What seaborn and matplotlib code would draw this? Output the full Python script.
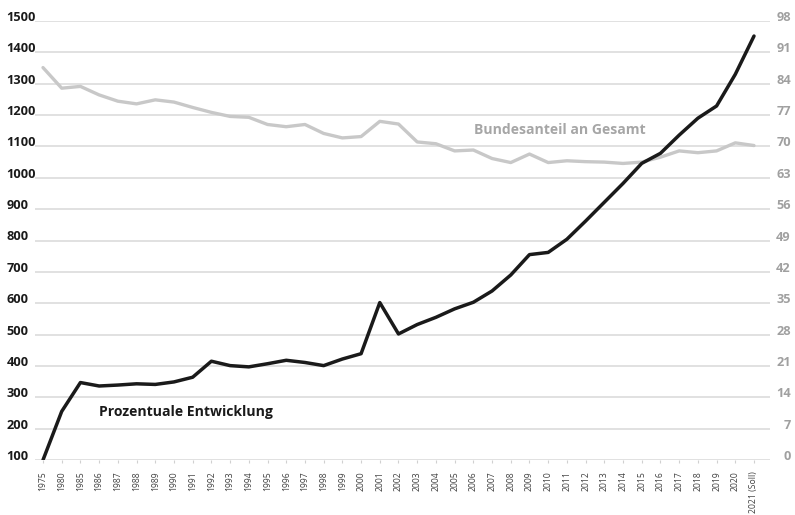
import matplotlib
matplotlib.use("Agg")
import matplotlib.pyplot as plt
import seaborn as sns
import pandas as pd

# Years on the category axis
jahre = ["1975", "1980"] + [str(y) for y in range(1985, 2021)] + ["2021 (Soll)"]

# Prozentuale Entwicklung (left axis, 1975 = 100)
entwicklung = [100, 255, 347, 336, 339, 343, 341, 349, 364, 415, 401, 397, 407,
               418, 411, 401, 422, 439, 602, 502, 532, 555, 582, 603, 639, 690,
               755, 762, 804, 862, 922, 982, 1046, 1078, 1136, 1190, 1229, 1330,
               1452]

# Bundesanteil an Gesamt in % (right axis)
bundesanteil = [87.6, 83.0, 83.4, 81.5, 80.1, 79.5, 80.4, 79.9, 78.7, 77.6, 76.7,
                76.5, 74.9, 74.4, 74.9, 72.9, 71.9, 72.2, 75.6, 75.0, 71.0, 70.6,
                69.0, 69.2, 67.3, 66.4, 68.3, 66.4, 66.8, 66.6, 66.5, 66.2, 66.5,
                67.6, 69.0, 68.6, 69.0, 70.8, 70.2]

links_ticks = list(range(100, 1501, 100))
rechts_ticks = list(range(0, 99, 7))

df = pd.DataFrame({"Jahr": jahre, "Entwicklung": entwicklung,
                   "Bundesanteil": bundesanteil})

sns.set_style("white")
plt.rcParams["font.family"] = ["Open Sans", "DejaVu Sans"]

W, H = 795, 515
fig = plt.figure(figsize=(W / 100, H / 100), dpi=100)
x0, x1, ytop, ybot = 35, 770, 21, 460
ax = fig.add_axes([x0 / W, (H - ybot) / H, (x1 - x0) / W, (ybot - ytop) / H])
ax2 = ax.twinx()

# right axis (drawn beneath): grid + share line
sns.lineplot(data=df, x="Jahr", y="Bundesanteil", ax=ax2, color="#c8c8c8",
             linewidth=2.4, sort=False)
# left axis (drawn on top): development line
sns.lineplot(data=df, x="Jahr", y="Entwicklung", ax=ax, color="#1a1a1a",
             linewidth=2.5, sort=False)

ax.set_zorder(ax2.get_zorder() + 1)
ax.patch.set_visible(False)

n = len(jahre)
ax.set_xlim(-8 / 18.71, n - 1 + 16 / 18.71)
ax.set_ylim(100, 1500)
ax2.set_ylim(0, 98)

for a in (ax, ax2):
    for s in a.spines.values():
        s.set_visible(False)
    a.set_xlabel("")
    a.set_ylabel("")

ax2.grid(axis="y", color="#d9d9d9", linewidth=1.1)
ax2.grid(axis="x", visible=False)
ax.grid(False)

# left labels: bold black, left-aligned at the figure edge
ax.set_yticks(links_ticks, [str(v) for v in links_ticks], fontweight="bold",
              fontsize=9.2, color="#1a1a1a", ha="left", va="baseline")
ax.tick_params(axis="y", length=0, pad=20.5)

# right labels: gray, right-aligned
ax2.set_yticks(rechts_ticks, [str(v) for v in rechts_ticks], fontweight="bold",
               fontsize=9.2, color="#a0a0a0", ha="right", va="baseline")
ax2.tick_params(axis="y", length=0, pad=15)

# category axis
ax.set_xticks(range(n), jahre, rotation=90, fontsize=6.2, color="#404040")
ax.tick_params(axis="x", bottom=True, length=2.5, width=0.8, color="#d0d0d0",
               pad=5.5)
ax2.tick_params(axis="x", bottom=False, labelbottom=False)

ax.text(0.087, 0.109, "Prozentuale Entwicklung", transform=ax.transAxes,
        fontsize=10.1, fontweight="bold", color="#1a1a1a", va="center", ha="left")
ax.text(0.597, 0.752, "Bundesanteil an Gesamt", transform=ax.transAxes,
        fontsize=10.1, fontweight="bold", color="#a6a6a6", va="center", ha="left")

fig.savefig("out.png", dpi=100)
